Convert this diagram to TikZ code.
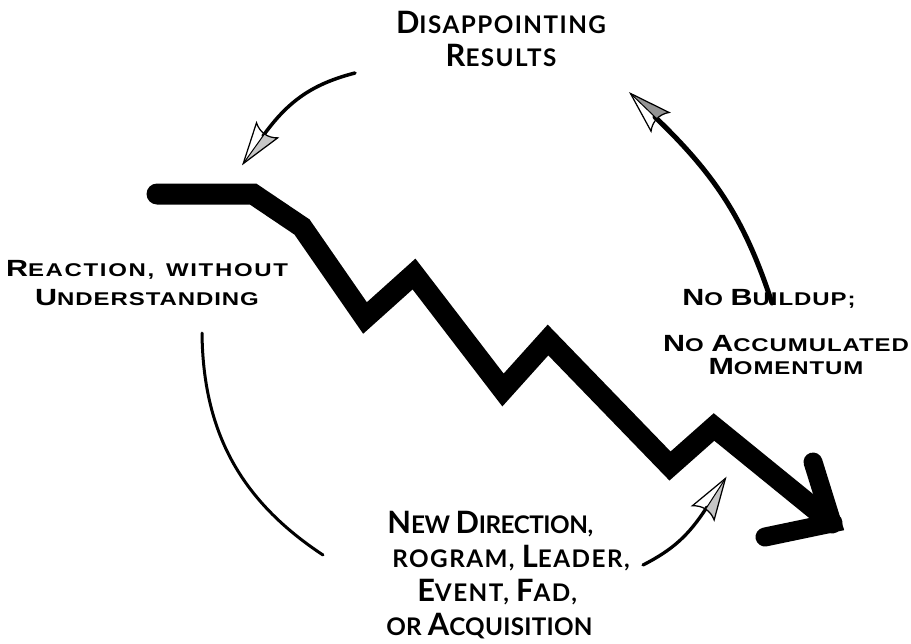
\documentclass[tikz,border=0pt]{standalone}
\usepackage{fontspec}
\usepackage{graphicx}
\usetikzlibrary{decorations.markings}
\pgfdeclarelayer{edgelayer}
\pgfdeclarelayer{nodelayer}
\pgfsetlayers{edgelayer,nodelayer,main}
\newfontfamily\plainsans[FakeStretch=1.3,LetterSpace=5]{Liberation Sans}
\newfontfamily\flaresans[LetterSpace=6]{Lato}
\tikzstyle{plain_label}=[font=\plainsans\bfseries\fontsize{10.5}{16.5}\selectfont,align=center,inner sep=0pt]
\tikzstyle{flare_label}=[font=\flaresans\bfseries\fontsize{13.8}{19.3}\selectfont,align=center,inner sep=0pt]
\tikzstyle{slide}=[draw=black,line width=4.2mm,line join=miter,line cap=round]
\tikzstyle{slide_head}=[draw=black,line width=3.8mm,line join=miter,line cap=round]
\tikzstyle{cycle_edge}=[draw=black,line cap=round]
\tikzset{
  feather_shade/.style={fill=gray!45},
  feather/.pic={
    \path [feather_shade] (34,0) -- (-2.5,0) .. controls (-3,5) .. (-7,13) -- cycle;
    \draw [line width=0.25mm,line join=miter] (34,0) -- (-7,13) .. controls (-1,5) and (-1,-5) .. (-7,-13) -- cycle;
    \draw [line width=0.2mm] (34,0) -- (-2.5,0);
  }
}
\tikzstyle{tipped}=[postaction={decorate,decoration={markings,mark=at position 1 with {\pic [transform shape] {feather};}}}]
\tikzstyle{tipped_flip}=[postaction={decorate,decoration={markings,mark=at position 1 with {\pic [transform shape,yscale=-1] {feather};}}}]
\tikzstyle{tipped_dark}=[postaction={decorate,decoration={markings,mark=at position 1 with {\pic [transform shape,feather_shade/.style={fill=gray!85}] {feather};}}}]
\newcommand{\ini}[1]{\scalebox{1.27}{#1}}

\begin{document}
\begin{tikzpicture}[x=0.2mm,y=-0.2mm]
	\useasboundingbox (0,0) rectangle (911,643);
	\begin{pgfonlayer}{nodelayer}
		\node [style=flare_label] (0) at (501,39) {\ini{D}ISAPPOINTING\\ \ini{R}ESULTS};
		\node [style=plain_label] (1) at (147,283) {\addfontfeatures{LetterSpace=9}\ini{R}EACTION,\hspace{2pt} WITHOUT\\ \ini{U}NDERSTANDING};
		\node [style=flare_label,align=left,anchor=west] (2) at (386,575) {\hspace*{0.6pt}{\addfontfeatures{LetterSpace=-2}\ini{N}EW \ini{D}IRECTION,}\\ \hspace*{3.4pt}ROGRAM, \ini{L}EADER,\\ \hspace*{17.6pt}\ini{E}VENT, \ini{F}AD,\\ {\addfontfeatures{LetterSpace=1}OR \ini{A}CQUISITION}};
		\node [style=plain_label] (3) at (769,299) {\ini{N}O \ini{B}UILDUP;};
		\node [style=plain_label] (4) at (786,355) {\ini{N}O \ini{A}CCUMULATED\\[-3.5pt] \ini{M}OMENTUM};
		\coordinate (5) at (355,73);
		\coordinate (6) at (263,136);
		\coordinate (7) at (202,333);
		\coordinate (8) at (323,555);
		\coordinate (9) at (643,565);
		\coordinate (10) at (707,507);
		\coordinate (11) at (772,303);
		\coordinate (12) at (655,117);
	\end{pgfonlayer}
	\begin{pgfonlayer}{edgelayer}
		\draw [style=slide] (157,194) -- (253,194) -- (302,227) -- (365,318) -- (414,274) -- (503,390) -- (548,340) -- (670,466) -- (714,427) -- (832,523);
		\draw [style=slide_head] (813,462) -- (832,523) -- (765,537);
		\draw [style=cycle_edge,line width=0.7mm,bend right=20,tipped_flip] (5) to (6);
		\draw [style=cycle_edge,line width=0.6mm,bend right=28] (7) to (8);
		\draw [style=cycle_edge,line width=0.66mm,bend right=15,tipped] (9) to (10);
		\draw [style=cycle_edge,line width=1mm,bend right=14,tipped_dark] (11) to (12);
	\end{pgfonlayer}
\end{tikzpicture}
\end{document}
